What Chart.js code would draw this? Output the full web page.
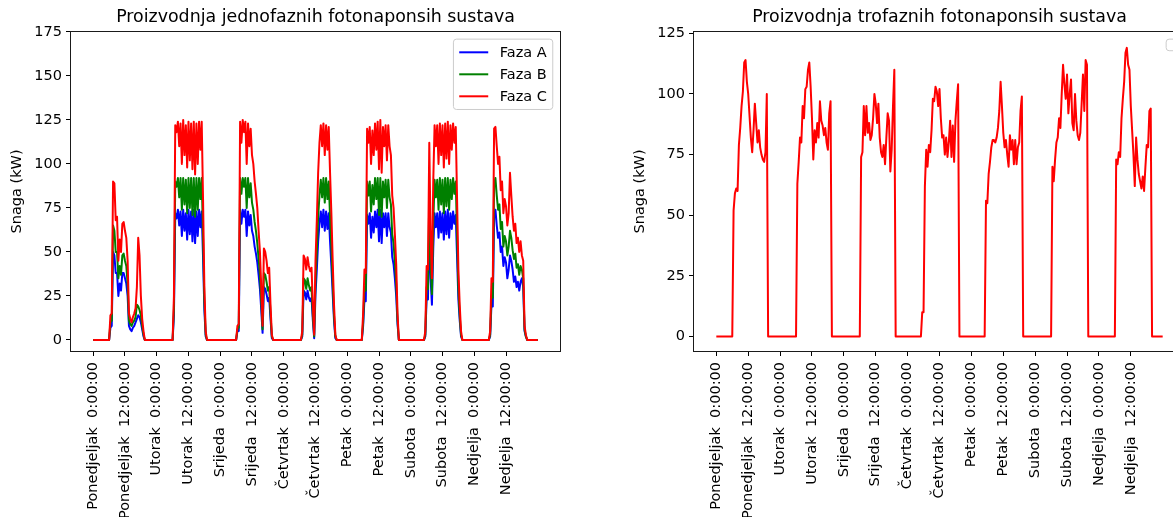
<!DOCTYPE html>
<html><head><meta charset="utf-8">
<script src="https://cdn.jsdelivr.net/npm/chart.js@4.4.1/dist/chart.umd.min.js"></script>
<style>
html,body{margin:0;padding:0;background:#fff;overflow:hidden;}
#wrap{position:relative;width:1173px;height:517px;overflow:hidden;background:#fff;}
canvas{position:absolute;top:0;}
#c1{left:0;} #c2{left:600px;}
</style></head><body>
<div id="wrap"><canvas id="c1" width="600" height="517"></canvas><canvas id="c2" width="600" height="517"></canvas></div>
<script>
// ---- data (one value every half hour, Monday 0:00 to Sunday 24:00) ----
const korakSati = 0.5;
const oznakeX = ['Ponedjeljak  0:00:00','Ponedjeljak  12:00:00','Utorak  0:00:00','Utorak  12:00:00',
  'Srijeda  0:00:00','Srijeda  12:00:00','Četvrtak  0:00:00','Četvrtak  12:00:00',
  'Petak  0:00:00','Petak  12:00:00','Subota  0:00:00','Subota  12:00:00',
  'Nedjelja  0:00:00','Nedjelja  12:00:00'];
const tickSati = [0,12,24,36,48,60,72,84,96,108,120,132,144,156];
const yTickJedno = [0,25,50,75,100,125,150,175];
const yTickTro = [0,25,50,75,100,125];

const fazaA = [
0,0,0,0,0,0,0,0,0,0,0,0, 0,7,8,50,48,38,38,25,32,28,38,38, 35,32,25,8,6,5,7,8,10,12,14,13, 10,6,2,0,0,0,0,0,0,0,0,0,
0,0,0,0,0,0,0,0,0,0,0,0, 0,14,72,69,74,65,73,59,74,62,72,57, 74,60,73,56,74,55,73,59,74,64,73,47, 17,2,0,0,0,0,0,0,0,0,0,0,
0,0,0,0,0,0,0,0,0,0,0,0, 0,5,5,74,66,74,70,74,59,73,65,71, 62,59,53,49,44,37,29,17,4,30,29,26, 22,24,12,1,0,0,0,0,0,0,0,0,
0,0,0,0,0,0,0,0,0,0,0,0, 0,0,2,28,27,23,28,24,22,24,11,1, 26,40,56,66,73,64,74,62,73,63,72,56, 42,26,11,1,0,0,0,0,0,0,0,0,
0,0,0,0,0,0,0,0,0,0,0,0, 8,23,22,71,66,72,58,70,61,73,64,74, 56,74,55,72,64,72,59,72,64,61,47,43, 35,25,9,0,0,0,0,0,0,0,0,0,
0,0,0,0,0,0,0,0,0,0,0,2, 24,23,65,35,20,52,72,64,72,58,73,61, 72,57,73,60,74,58,72,63,73,66,71,47, 23,11,2,0,0,0,0,0,0,0,0,0,
0,0,0,0,0,0,0,0,0,0,0,0, 2,20,19,70,74,65,58,61,50,53,42,47, 44,35,40,48,45,40,33,36,30,33,28,33, 35,30,5,2,0,0,0,0,0,0,0,0,
0];
const fazaB = [
0,0,0,0,0,0,0,0,0,0,0,0, 0,10,11,65,62,50,50,35,42,37,48,49, 45,42,32,11,9,8,10,11,13,20,19,17, 14,8,3,0,0,0,0,0,0,0,0,0,
0,0,0,0,0,0,0,0,0,0,0,0, 0,18,90,87,92,81,92,74,92,77,91,72, 92,75,92,71,92,70,92,74,92,80,92,59, 22,3,0,0,0,0,0,0,0,0,0,0,
0,0,0,0,0,0,0,0,0,0,0,0, 0,6,7,92,83,92,87,92,75,92,81,89, 78,74,67,62,55,46,37,22,6,38,37,33, 28,30,15,2,0,0,0,0,0,0,0,0,
0,0,0,0,0,0,0,0,0,0,0,0, 0,0,3,35,34,29,35,31,28,30,14,2, 33,50,70,82,91,81,92,78,92,80,90,70, 53,33,14,2,0,0,0,0,0,0,0,0,
0,0,0,0,0,0,0,0,0,0,0,0, 10,30,28,90,82,90,73,88,77,92,80,92, 71,92,70,90,81,91,75,91,81,77,60,55, 44,32,11,0,0,0,0,0,0,0,0,0,
0,0,0,0,0,0,0,0,0,0,0,3, 30,29,82,44,26,66,91,81,91,74,92,77, 91,72,92,76,92,74,91,80,92,83,90,59, 29,14,3,0,0,0,0,0,0,0,0,0,
0,0,0,0,0,0,0,0,0,0,0,0, 3,25,24,88,92,82,74,77,63,67,53,59, 56,48,53,62,58,51,46,49,41,43,37,42, 40,35,6,2,0,0,0,0,0,0,0,0,
0];
const fazaC = [
0,0,0,0,0,0,0,0,0,0,0,0, 0,14,15,90,89,68,70,45,57,50,66,67, 62,58,45,15,12,10,13,15,18,30,58,48, 25,12,5,0,0,0,0,0,0,0,0,0,
0,0,0,0,0,0,0,0,0,0,0,0, 0,25,122,118,124,110,123,100,125,105,122,98, 124,102,123,97,124,94,123,100,124,108,124,80, 30,5,0,0,0,0,0,0,0,0,0,0,
0,0,0,0,0,0,0,0,0,0,0,0, 0,8,9,124,112,125,118,124,100,123,110,120, 105,100,90,83,75,62,50,30,8,52,50,45, 38,41,20,3,0,0,0,0,0,0,0,0,
0,0,0,0,0,0,0,0,0,0,0,0, 0,0,5,48,46,40,47,42,39,41,20,3, 45,68,95,112,122,110,123,105,122,108,121,95, 72,45,20,3,0,0,0,0,0,0,0,0,
0,0,0,0,0,0,0,0,0,0,0,0, 15,40,38,120,112,121,100,119,105,123,108,124, 97,125,95,121,110,122,102,122,110,105,82,75, 60,43,15,0,0,0,0,0,0,0,0,0,
0,0,0,0,0,0,0,0,0,0,0,5, 42,40,112,60,35,90,122,110,122,100,123,105, 122,98,123,103,124,100,122,108,123,112,121,80, 40,20,5,0,0,0,0,0,0,0,0,0,
0,0,0,0,0,0,0,0,0,0,0,0, 5,35,33,120,121,110,100,104,85,90,72,80, 76,65,72,95,82,70,62,66,55,58,50,56, 48,45,8,3,0,0,0,0,0,0,0,0,
0];
const trofazni = [
0,0,0,0,0,0,0,0,0,0,0,0, 0,52,59,61,60,79,86,95,101,113,114,105, 100,91,82,76,85,96,88,80,85,78,75,73, 72,76,100,0,0,0,0,0,0,0,0,0,
0,0,0,0,0,0,0,0,0,0,0,0, 0,63,72,82,80,95,90,102,103,110,113,103, 90,73,85,80,88,82,97,89,87,83,86,80, 77,92,97,0,0,0,0,0,0,0,0,0,
0,0,0,0,0,0,0,0,0,0,0,0, 0,74,76,95,83,95,84,88,81,83,90,100, 96,88,96,82,76,74,79,71,82,92,89,68, 77,95,110,0,0,0,0,0,0,0,0,0,
0,0,0,0,0,0,0,0,0,0,0,10, 10,62,77,70,79,76,85,98,97,103,101,95, 102,90,82,83,75,82,74,80,89,74,87,72, 89,97,104,0,0,0,0,0,0,0,0,0,
0,0,0,0,0,0,0,0,0,0,0,56, 55,67,72,78,81,81,80,82,86,93,105,95, 84,78,81,75,70,83,77,81,71,81,71,78, 80,93,99,0,0,0,0,0,0,0,0,0,
0,0,0,0,0,0,0,0,0,0,0,0, 0,70,64,73,80,82,90,86,100,112,104,98, 108,92,100,106,88,85,100,89,83,81,84,96, 108,93,114,112,0,0,0,0,0,0,0,0,
0,0,0,0,0,0,0,0,0,0,0,0, 0,73,71,76,74,90,98,105,117,119,112,110, 95,85,75,62,82,73,67,64,61,66,60,70, 79,78,93,94,0,0,0,0,0,0,0,0,
0];

// ---- rendering ----
const FONT = '"DejaVu Sans", sans-serif';
Chart.defaults.font.family = FONT;
Chart.defaults.color = '#000';
const FS = 14.5;

const tocke = arr => arr.map((v, i) => ({x: i * korakSati, y: v}));

const okvirPlugin = {
  id: 'okvir',
  afterDatasetsDraw(chart) {
    const {ctx, chartArea: a} = chart;
    ctx.save();
    ctx.strokeStyle = '#1a1a1a';
    ctx.lineWidth = 1;
    const l = Math.round(a.left) - 0.5, t = Math.round(a.top) - 0.5;
    const r = Math.round(a.right) + 0.5, b = Math.round(a.bottom) + 0.5;
    ctx.strokeRect(l, t, r - l, b - t);
    ctx.restore();
  }
};

const legendaPlugin = {
  id: 'legendaUnutra',
  afterDraw(chart) {
    const {ctx, chartArea: a} = chart;
    const pad = 0.4 * FS, handleLen = 2 * FS, gap = 0.8 * FS, rowH = 14.75, spacing = 0.5 * FS, axPad = 0.5 * FS;
    const items = chart.data.datasets.filter(d => d.label);
    ctx.save();
    ctx.font = FS + 'px ' + FONT;
    let tw = 0;
    items.forEach(d => { tw = Math.max(tw, ctx.measureText(d.label).width); });
    const w = items.length ? pad * 2 + handleLen + gap + tw : pad * 2;
    const h = items.length ? pad * 2 + items.length * rowH + (items.length - 1) * spacing : pad * 2;
    const x = a.right - axPad - w, y = a.top + axPad;
    const rr = 3;
    ctx.beginPath();
    ctx.moveTo(x + rr, y);
    ctx.lineTo(x + w - rr, y); ctx.quadraticCurveTo(x + w, y, x + w, y + rr);
    ctx.lineTo(x + w, y + h - rr); ctx.quadraticCurveTo(x + w, y + h, x + w - rr, y + h);
    ctx.lineTo(x + rr, y + h); ctx.quadraticCurveTo(x, y + h, x, y + h - rr);
    ctx.lineTo(x, y + rr); ctx.quadraticCurveTo(x, y, x + rr, y);
    ctx.closePath();
    ctx.fillStyle = 'rgba(255,255,255,0.8)';
    ctx.fill();
    ctx.strokeStyle = '#cccccc';
    ctx.lineWidth = 1;
    ctx.stroke();
    items.forEach((d, i) => {
      const cy = y + pad + rowH / 2 + i * (rowH + spacing);
      ctx.strokeStyle = d.borderColor;
      ctx.lineWidth = 2;
      ctx.beginPath();
      ctx.moveTo(x + pad, cy); ctx.lineTo(x + pad + handleLen, cy);
      ctx.stroke();
      ctx.fillStyle = '#000';
      ctx.textBaseline = 'middle';
      ctx.textAlign = 'left';
      ctx.fillText(d.label, x + pad + handleLen + gap, cy + 0.5);
    });
    ctx.restore();
  }
};

function linija(label, data, color, order) {
  return {label, data: tocke(data), borderColor: color, backgroundColor: color,
    borderWidth: 2, pointRadius: 0, tension: 0, fill: false, order,
    borderJoinStyle: 'round', borderCapStyle: 'butt'};
}

function graf(id, naslov, datasets, yMin, yMax, yTicks, yWidth, titlePadTop, padRight) {
  return new Chart(document.getElementById(id), {
    type: 'line',
    data: {datasets},
    plugins: [okvirPlugin, legendaPlugin],
    options: {
      responsive: false, animation: false, parsing: false, normalized: true,
      layout: {padding: {left: 0, right: padRight, top: 0, bottom: 0}},
      plugins: {
        legend: {display: false}, tooltip: {enabled: false},
        title: {display: true, text: naslov, fullSize: false, color: '#000',
          font: {size: 17.4, weight: 'normal', family: FONT}, padding: {top: 7, bottom: 4}}
      },
      scales: {
        x: {
          type: 'linear', min: -8.4, max: 176.4,
          afterBuildTicks: s => { s.ticks = tickSati.map(v => ({value: v})); },
          afterFit: s => { s.height = 166; },
          grid: {display: true, drawOnChartArea: false, drawTicks: true, tickLength: 5, tickColor: '#000', tickWidth: 1},
          border: {display: false},
          ticks: {autoSkip: false, minRotation: 90, maxRotation: 90, padding: 6, color: '#000',
            font: {size: FS, family: FONT}, callback: (v, i) => oznakeX[i]}
        },
        y: {
          type: 'linear', min: yMin, max: yMax,
          afterBuildTicks: s => { s.ticks = yTicks.map(v => ({value: v})); },
          afterFit: s => { s.width = yWidth; },
          grid: {display: true, drawOnChartArea: false, drawTicks: true, tickLength: 5, tickColor: '#000', tickWidth: 1},
          border: {display: false},
          ticks: {padding: 4, color: '#000', font: {size: FS, family: FONT}},
          title: {display: true, text: 'Snaga (kW)', color: '#000', font: {size: FS, family: FONT},
            padding: {top: titlePadTop, bottom: 0}}
        }
      }
    }
  });
}

graf('c1', 'Proizvodnja jednofaznih fotonaponsih sustava', [
  linija('Faza A', fazaA, '#0000ff', 3),
  linija('Faza B', fazaB, '#008000', 2),
  linija('Faza C', fazaC, '#ff0000', 1)
], -6.3, 175, yTickJedno, 71, 8.3, 40);

graf('c2', 'Proizvodnja trofaznih fotonaponsih sustava', [
  linija('', trofazni, '#ff0000', 1)
], -6, 125.6, yTickTro, 94, 31.3, 15);
</script>
</body></html>
